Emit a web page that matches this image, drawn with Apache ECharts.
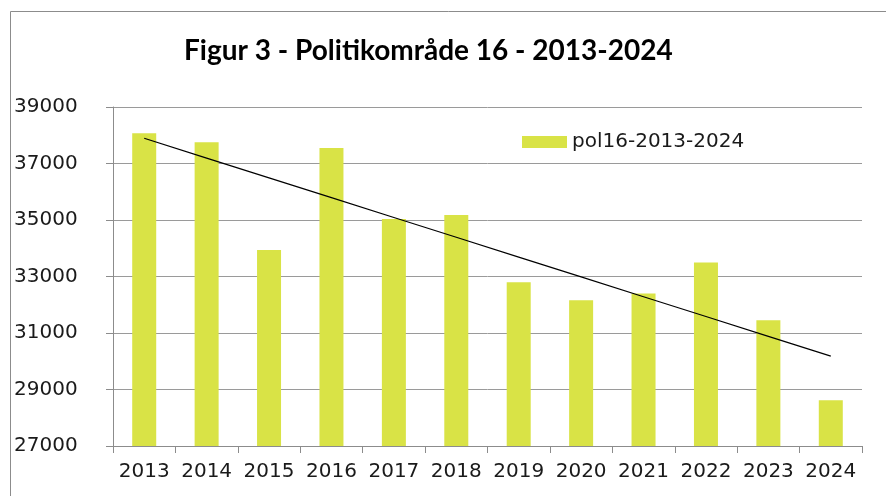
<!DOCTYPE html>
<html>
<head>
<meta charset="utf-8">
<script src="https://cdn.jsdelivr.net/npm/echarts@6/dist/echarts.min.js"></script>
<style>
  html, body { margin: 0; padding: 0; background: #fff; }
  #chart { width: 886px; height: 496px; }
</style>
</head>
<body>
<div id="chart"></div>
<script>
// kategorier og værdier
var years = ['2013', '2014', '2015', '2016', '2017', '2018', '2019', '2020', '2021', '2022', '2023', '2024']
var pol16 = [38070, 37750, 33940, 37550, 35035, 35180, 32800, 32160, 32400, 33500, 31450, 28620]
var yTicks = { min: 27000, max: 39000, interval: 2000 }

// lineær tendenslinje (mindste kvadraters metode) over værdierne
function trendOf (vals) {
  var n = vals.length
  var sx = 0, sy = 0, sxy = 0, sxx = 0
  vals.forEach(function (v, i) {
    sx += i; sy += v; sxy += i * v; sxx += i * i
  })
  var b = (n * sxy - sx * sy) / (n * sxx - sx * sx)
  var a = (sy - b * sx) / n
  return vals.map(function (v, i) { return Math.round(a + b * i) })
}
var trend = trendOf(pol16)

var labelFont = { fontFamily: 'DejaVu Sans', fontSize: 20, color: '#1a1a1a' }

var chart = echarts.init(document.getElementById('chart'))
chart.setOption({
  animation: false,
  backgroundColor: '#fff',
  graphic: [{
    type: 'rect',
    shape: { x: 10.5, y: 11.5, width: 1000, height: 1000 },
    style: { fill: 'none', stroke: '#8c8c8c', lineWidth: 1 },
    silent: true
  }],
  title: {
    text: 'Figur 3 - Politikområde 16 - 2013-2024',
    left: 179,
    top: 32,
    textStyle: { fontFamily: 'Lato', fontWeight: 'bold', fontSize: 28, color: '#000' }
  },
  legend: {
    data: [{ name: 'pol16-2013-2024', icon: 'rect' }],
    left: 517,
    top: 127,
    itemWidth: 45,
    itemHeight: 12,
    itemGap: 6,
    textStyle: labelFont
  },
  grid: { left: 113, right: 24, top: 107, bottom: 50, containLabel: false },
  xAxis: {
    type: 'category',
    data: years,
    boundaryGap: true,
    axisLine: { lineStyle: { color: '#8c8c8c', width: 1 } },
    axisTick: { show: true, length: 7, lineStyle: { color: '#8c8c8c' } },
    axisLabel: Object.assign({ margin: 16, interval: 0 }, labelFont),
    splitLine: { show: false }
  },
  yAxis: {
    type: 'value',
    min: yTicks.min,
    max: yTicks.max,
    interval: yTicks.interval,
    axisLine: { show: true, lineStyle: { color: '#8c8c8c', width: 1 } },
    axisTick: { show: true, length: 7, lineStyle: { color: '#8c8c8c' } },
    axisLabel: Object.assign({
      margin: 99,
      align: 'left',
      formatter: function (v) { return String(v) }
    }, labelFont),
    splitLine: { show: true, lineStyle: { color: '#9a9a9a', width: 1 } }
  },
  series: [
    {
      name: 'pol16-2013-2024',
      type: 'bar',
      data: pol16,
      barWidth: 24,
      itemStyle: { color: '#d9e346' }
    },
    {
      name: 'trend',
      type: 'line',
      data: trend,
      symbol: 'none',
      lineStyle: { color: '#000', width: 1.2 },
      z: 5
    }
  ]
})
</script>
</body>
</html>
